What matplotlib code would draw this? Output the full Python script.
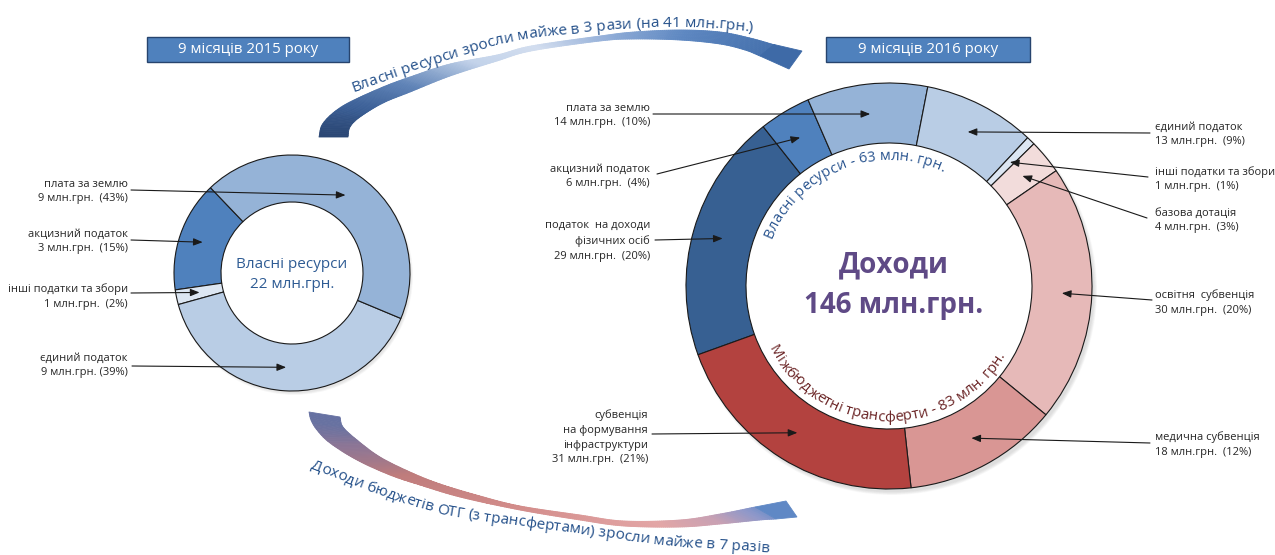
import numpy as np
import matplotlib
matplotlib.use('Agg')
import matplotlib.pyplot as plt
from matplotlib.patches import Rectangle, Polygon, Wedge
from matplotlib.collections import PolyCollection
from matplotlib.colors import LinearSegmentedColormap
from matplotlib.font_manager import FontProperties

W, H = 1275, 555
FONT = ['Open Sans', 'DejaVu Sans']
plt.rcParams['font.family'] = FONT

# ---------------- data ----------------
title_2015 = '9 місяців 2015 року'
title_2016 = '9 місяців 2016 року'

left_names = ['акцизний податок', 'інші податки та збори', 'єдиний податок', 'плата за землю']
left_values = [3, 1, 9, 9]          # млн.грн.
left_pcts = [15, 2, 39, 43]         # %
left_colors = ['#4F81BD', '#DCE6F2', '#B9CDE5', '#95B3D7']
left_total = 22

right_names = ['податок  на доходи\nфізичних осіб', 'акцизний податок', 'плата за землю',
               'єдиний податок', 'інші податки та збори', 'базова дотація',
               'освітня  субвенція', 'медична субвенція', 'субвенція\nна формування\nінфраструктури']
right_values = [29, 6, 14, 13, 1, 4, 30, 18, 31]   # млн.грн.
right_pcts = [20, 4, 10, 9, 1, 3, 20, 12, 21]      # %
right_colors = ['#376092', '#4F81BD', '#95B3D7', '#B9CDE5', '#DCE6F2',
                '#F2DCDB', '#E6B9B8', '#D99694', '#B3423F']
own_total = 63
transfer_total = 83
grand_total = 146

arrow_top_text = 'Власні ресурси зросли майже в 3 рази (на 41 млн.грн.)'
arrow_bottom_text = 'Доходи бюджетів ОТГ (з трансфертами) зросли майже в 7 разів'

# ---------------- figure ----------------
fig = plt.figure(figsize=(W / 100, H / 100), dpi=100)
ax = fig.add_axes([0, 0, 1, 1])
renderer = fig.canvas.get_renderer()


def Y(y):
    return H - y


def pts_up(pts):
    return np.array([(x, H - y) for x, y in pts], float)


def catmull(points, n=40):
    P = np.asarray(points, float)
    P = np.vstack([P[0] - (P[1] - P[0]), P, P[-1] + (P[-1] - P[-2])])
    out = []
    t = np.linspace(0, 1, n, endpoint=False)[:, None]
    for i in range(1, len(P) - 2):
        p0, p1, p2, p3 = P[i - 1], P[i], P[i + 1], P[i + 2]
        seg = 0.5 * ((2 * p1) + (-p0 + p2) * t + (2 * p0 - 5 * p1 + 4 * p2 - p3) * t ** 2
                     + (-p0 + 3 * p1 - 3 * p2 + p3) * t ** 3)
        out.append(seg)
    out.append(P[-2][None, :])
    return np.vstack(out)


def resample(pts, n):
    seg = np.diff(pts, axis=0)
    cum = np.concatenate([[0], np.cumsum(np.hypot(seg[:, 0], seg[:, 1]))])
    s = np.linspace(0, cum[-1], n)
    return np.column_stack([np.interp(s, cum, pts[:, 0]), np.interp(s, cum, pts[:, 1])])


def str_width(s, size, weight='normal'):
    fp = FontProperties(family=FONT, size=size, weight=weight)
    w, h, d = renderer.get_text_width_height_descent(s, fp, ismath=False)
    return w


def char_widths(s, size, weight='normal'):
    base = str_width('xx', size, weight)
    return np.array([str_width('x' + c + 'x', size, weight) - base for c in s])


def text_on_path(pts, s, size, color, start=0.0, weight='normal', fit_len=None, zorder=6):
    pts = np.asarray(pts, float)
    seg = np.diff(pts, axis=0)
    cum = np.concatenate([[0], np.cumsum(np.hypot(seg[:, 0], seg[:, 1]))])
    if fit_len is not None:
        size = size * fit_len / char_widths(s, size, weight).sum()
    ws = char_widths(s, size, weight)
    pos = start + np.cumsum(ws) - ws / 2
    for ch, p in zip(s, pos):
        x = np.interp(p, cum, pts[:, 0])
        y = np.interp(p, cum, pts[:, 1])
        xa, ya = np.interp(p - 3, cum, pts[:, 0]), np.interp(p - 3, cum, pts[:, 1])
        xb, yb = np.interp(p + 3, cum, pts[:, 0]), np.interp(p + 3, cum, pts[:, 1])
        ang = np.degrees(np.arctan2(yb - ya, xb - xa))
        ax.text(x, y, ch, rotation=ang, rotation_mode='anchor', ha='center', va='baseline',
                fontsize=size, color=color, weight=weight, zorder=zorder)
    return size


def text_on_circle(s, cx, cy, r, theta_mid, span_deg, clockwise, color, size=10):
    L = np.radians(span_deg) * r
    size = size * L / char_widths(s, size).sum()
    sgn = -1 if clockwise else 1
    th0 = theta_mid - sgn * span_deg / 2
    th = np.radians(th0 + sgn * np.linspace(-10, span_deg + 10, 400))
    arc = np.column_stack([cx + r * np.cos(th), cy + r * np.sin(th)])
    start = np.radians(10) * r
    text_on_path(arc, s, size, color, start=start)


def gradient_band(edge_a, edge_b, stops, n=240, by_x=False, zorder=1):
    A = resample(catmull(pts_up(edge_a)), n)
    B = resample(catmull(pts_up(edge_b)), n)
    cmap = LinearSegmentedColormap.from_list('g', stops)
    polys, cols = [], []
    xmin = min(A[:, 0].min(), B[:, 0].min())
    xmax = max(A[:, 0].max(), B[:, 0].max())
    for i in range(n - 1):
        quad = [A[i], A[i + 1], B[i + 1], B[i]]
        polys.append(quad)
        if by_x:
            u = ((A[i, 0] + B[i, 0]) / 2 - xmin) / (xmax - xmin)
        else:
            u = i / (n - 2)
        cols.append(cmap(u))
    pc = PolyCollection(polys, facecolors=cols, edgecolors=cols, linewidths=0.6, zorder=zorder)
    ax.add_collection(pc)


# ---------------- curved arrows ----------------
top_outer = [(319, 137), (322, 125), (333, 113), (350, 102), (383, 87), (410, 77), (450, 64),
             (497, 55), (531, 46), (600, 36), (634, 32), (680, 30), (720, 32), (750, 38), (775, 45)]
top_inner = [(348, 137), (350, 127), (360, 117), (383, 103), (410, 92), (450, 76), (497, 61),
             (531, 51), (600, 41), (634, 39), (680, 40), (720, 44), (745, 50), (760, 56)]
gradient_band(top_outer, top_inner,
              [(0.0, '#2A4673'), (0.08, '#3B5F96'), (0.2, '#5E82B6'), (0.36, '#C3D3EA'),
               (0.5, '#D3DEEF'), (0.66, '#8FACD7'), (0.82, '#5D87C1'), (1.0, '#4672AE')])
ax.add_patch(Polygon(pts_up([(774, 44.5), (802, 51), (789, 69), (760, 56)]),
                     closed=True, fc='#3E6AA7', ec='#3E6AA7', lw=0.6, zorder=1))

bot_upper = [(340, 417), (343, 427), (357, 440), (380, 457), (410, 472), (440, 484), (480, 496),
             (520, 506), (580, 515), (624, 521), (680, 520), (720, 514), (755, 507)]
bot_lower = [(309, 412), (311, 420), (317, 430), (330, 443), (357, 460), (390, 475), (420, 485),
             (460, 497), (520, 510), (580, 520), (624, 526), (680, 527), (720, 524), (760, 520), (776, 519)]
gradient_band(bot_upper, bot_lower,
              [(0.0, '#4E6FAA'), (0.08, '#8A7596'), (0.2, '#BF7C7C'), (0.45, '#D38D8B'),
               (0.75, '#E3A6A6'), (0.87, '#C9A1B3'), (0.95, '#8F98C9'), (1.0, '#6A8DC8')], by_x=True)
ax.add_patch(Polygon(pts_up([(755, 507), (786, 501), (797, 517), (776, 519)]),
                     closed=True, fc='#5F88C5', ec='#5F88C5', lw=0.6, zorder=1))

# ---------------- donuts ----------------
Lc = (292, Y(273)); LR, Lr = 118, 71
Rc = (889, Y(286)); RR, Rr = 203, 143

# soft shadow (lower right) of the rings
for k in range(6):
    ax.add_patch(Wedge((Rc[0] + 3, Rc[1] - 4), RR - 1 + k * 0.6, 0, 360, width=25,
                       fc='#707070', ec='none', alpha=0.04, zorder=1.5))
for k in range(5):
    ax.add_patch(Wedge((Lc[0] + 2, Lc[1] - 3), LR - 1 + k * 0.5, 0, 360, width=20,
                       fc='#707070', ec='none', alpha=0.035, zorder=1.5))

wl, _ = ax.pie(left_pcts, colors=left_colors, startangle=133.7, counterclock=True,
               radius=LR, center=Lc, frame=True,
               wedgeprops=dict(width=LR - Lr, edgecolor='#1a1a1a', linewidth=0.8))
wr, _ = ax.pie(right_values, colors=right_colors, startangle=199.8, counterclock=False,
               radius=RR, center=Rc, frame=True,
               wedgeprops=dict(width=RR - Rr, edgecolor='#1a1a1a', linewidth=0.8))
for w in list(wl) + list(wr):
    w.set_zorder(2)

ax.set_xlim(0, W)
ax.set_ylim(0, H)
ax.set_aspect('equal')
ax.axis('off')

# ---------------- annotations ----------------
LBL = '#262626'
ARW = dict(arrowstyle='-|>,head_length=0.55,head_width=0.22', lw=0.8, color='#1a1a1a',
           shrinkA=0, shrinkB=0, mutation_scale=10)


def mid_point(w):
    th = np.radians((w.theta1 + w.theta2) / 2)
    rm = w.r - w.width / 2
    return (w.center[0] + rm * np.cos(th), w.center[1] + rm * np.sin(th))


# left: (text x, text center y, line start x, line start y)
left_lay = [(128, 241.5, 131, 240), (128, 296.5, 131, 293), (128, 365.5, 132, 366), (128, 191.5, 131, 190)]
left_sep = ['  ', '  ', ' ', '  ']
for w, name, v, p, (tx, ty, lx, ly), sp in zip(wl, left_names, left_values, left_pcts, left_lay, left_sep):
    ax.text(tx, Y(ty), f'{name}\n{v} млн.грн.{sp}({p}%)', ha='right', va='center',
            multialignment='right', fontsize=8, color=LBL, linespacing=1.45, zorder=7)
    ax.annotate('', xy=mid_point(w), xytext=(lx, Y(ly)), arrowprops=ARW, zorder=8)

right_lay = [(650, 241, 655, 240, 'right'), (650, 176.5, 657, 174, 'right'), (650, 115.5, 653, 114, 'right'),
             (1155, 134.5, 1150, 133, 'left'), (1155, 179, 1148, 177, 'left'), (1155, 220.5, 1147, 218, 'left'),
             (1155, 302.5, 1152, 300, 'left'), (1155, 444.5, 1150, 443, 'left'), (648, 437.5, 652, 434, 'right')]
for w, name, v, p, (tx, ty, lx, ly, al) in zip(wr, right_names, right_values, right_pcts, right_lay):
    ax.text(tx, Y(ty), f'{name}\n{v} млн.грн.  ({p}%)', ha=al, va='center',
            multialignment=al, fontsize=8, color=LBL, linespacing=1.45, zorder=7)
    ax.annotate('', xy=mid_point(w), xytext=(lx, Y(ly)), arrowprops=ARW, zorder=8)

# ---------------- centre texts ----------------
ax.text(Lc[0], Y(274.5), f'Власні ресурси\n{left_total} млн.грн.', ha='center', va='center',
        fontsize=11, color='#2F5C94', linespacing=1.4, zorder=7)
ax.text(Rc[0] + 5, Y(265), 'Доходи', ha='center', va='center', fontsize=20,
        weight='bold', color='#5F4A86', zorder=7)
ax.text(Rc[0] + 5, Y(305), f'{grand_total} млн.грн.', ha='center', va='center', fontsize=20,
        weight='bold', color='#5F4A86', zorder=7)

text_on_circle(f'Власні ресурси - {own_total} млн. грн.', Rc[0], Rc[1], 126, 111.8, 93,
               True, '#2A5590')
text_on_circle(f'Міжбюджетні трансферти - {transfer_total} млн. грн.', Rc[0], Rc[1], 135, 268.3,
               122, False, '#6B2526')

# ---------------- titles ----------------
for (x0, x1), t in [((147, 349), title_2015), ((826, 1030), title_2016)]:
    ax.add_patch(Rectangle((x0, Y(62)), x1 - x0, 25, fc='#4F81BD', ec='#27446E', lw=1.0, zorder=3))
    ax.text((x0 + x1) / 2, Y(49.5), t, ha='center', va='center', color='white',
            fontsize=10.8, zorder=4)

# ---------------- curved texts ----------------
top_base = catmull(pts_up([(353, 92), (404, 74), (462, 55), (514, 41), (576, 33), (634, 28),
                           (692, 27), (750, 31)]))
seg = np.diff(top_base, axis=0)
text_on_path(top_base, arrow_top_text, 11, '#24508A',
             fit_len=np.hypot(seg[:, 0], seg[:, 1]).sum())

bot_base = catmull(pts_up([(310, 468), (366, 490), (435, 512.5), (483, 520.5), (540, 528.5),
                           (590, 535), (648, 543), (700, 548), (768, 552)]))
seg = np.diff(bot_base, axis=0)
text_on_path(bot_base, arrow_bottom_text, 12, '#24508A',
             fit_len=np.hypot(seg[:, 0], seg[:, 1]).sum())

fig.savefig('out.png', dpi=100)
